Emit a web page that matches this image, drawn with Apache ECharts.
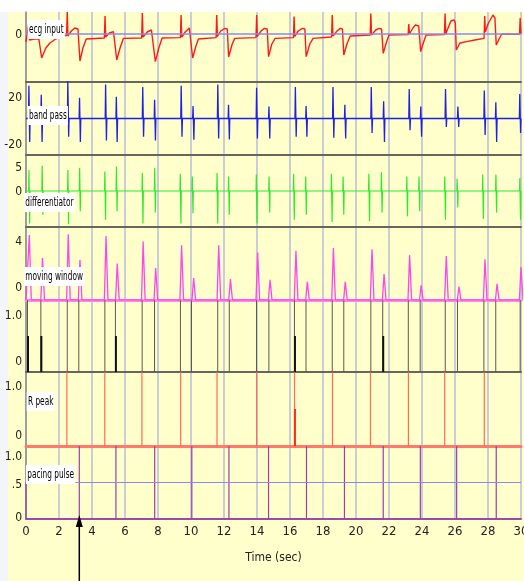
<!DOCTYPE html>
<html><head><meta charset="utf-8">
<script src="https://cdn.jsdelivr.net/npm/echarts@6/dist/echarts.min.js"></script>
<style>
html,body{margin:0;padding:0;background:#fff;width:524px;height:581px;overflow:hidden;}
#chart{position:absolute;left:0;top:0;width:524px;height:581px;}
</style></head><body><div id="chart"></div>
<script>
// ---------------- data ----------------
const timeTicks = [0,2,4,6,8,10,12,14,16,18,20,22,24,26,28,30];

// ecg input: [time (s), value]
const ecgInput = [
 [0.00,-0.40],[0.12,-0.35],[0.18,0.60],[0.22,-0.30],[0.50,-0.25],[0.78,-0.25],[0.95,-1.20],[1.20,-0.70],[1.45,-0.45],[1.80,-0.25],[2.20,-0.10],[2.46,-0.08],
 [2.50,1.10],[2.54,-0.10],[2.75,0.15],[2.95,0.30],[3.15,0.25],[3.27,-1.35],[3.45,-0.70],[3.65,-0.25],[4.75,-0.20],
 [4.79,0.90],[4.83,-0.15],[5.05,0.05],[5.30,0.12],[5.40,0.08],[5.50,-1.30],[5.70,-0.70],[5.90,-0.22],[7.01,-0.20],
 [7.05,1.05],[7.09,-0.15],[7.35,0.10],[7.60,0.20],[7.72,0.15],[7.84,-1.38],[8.05,-0.70],[8.25,-0.20],[9.36,-0.18],
 [9.40,0.95],[9.44,-0.15],[9.65,0.10],[9.90,0.30],[10.00,0.25],[10.10,-1.20],[10.30,-0.60],[10.45,-0.25],[11.52,-0.18],
 [11.56,0.95],[11.60,-0.12],[11.80,0.15],[12.05,0.28],[12.20,0.25],[12.28,-1.15],[12.50,-0.50],[12.65,-0.22],[13.94,-0.18],
 [13.98,0.95],[14.02,-0.12],[14.25,0.15],[14.45,0.28],[14.62,0.25],[14.70,-1.13],[14.90,-0.50],[15.10,-0.22],[16.21,-0.18],
 [16.25,0.87],[16.29,-0.12],[16.50,0.15],[16.75,0.28],[16.90,0.25],[16.98,-1.13],[17.20,-0.50],[17.40,-0.22],[18.52,-0.15],
 [18.56,0.95],[18.60,-0.10],[18.85,0.15],[19.05,0.28],[19.18,0.25],[19.26,-1.05],[19.45,-0.50],[19.65,-0.10],[20.86,-0.05],
 [20.90,1.03],[20.94,-0.05],[21.20,0.20],[21.40,0.28],[21.55,0.25],[21.65,-0.97],[21.85,-0.40],[22.00,-0.05],[23.16,-0.03],
 [23.20,0.50],[23.24,0.00],[23.45,0.30],[23.60,0.45],[23.80,0.40],[23.92,-0.88],[24.10,-0.40],[24.25,-0.05],[25.36,-0.03],
 [25.40,1.03],[25.44,0.00],[25.55,0.10],[25.75,0.65],[25.95,0.70],[26.02,0.55],[26.08,-0.80],[26.30,-0.45],[26.70,-0.38],[27.20,-0.30],[27.76,-0.22],
 [27.80,0.90],[27.84,0.10],[28.00,0.50],[28.30,0.95],[28.42,0.80],[28.50,-0.55],[28.70,-0.20],[28.85,0.00],[29.91,-0.02],
 [29.95,0.80],[30.00,0.00]
];

// band pass spikes: time, positive peak, negative peak
const bpTimes = [0.20,0.95,2.56,3.27,4.85,5.50,7.10,7.82,9.43,10.15,11.65,12.30,14.00,14.75,16.35,17.00,18.63,19.35,20.95,21.70,23.25,23.95,25.45,26.20,27.80,28.50,29.95];
const bpUp    = [18,13,21,11.4,18.6,11.9,17.2,10.3,18,6.9,18.6,7.5,16.9,6.5,17.2,6.9,17.2,7.5,17.2,9.4,16.1,6.5,16.1,6.5,15.3,8.9,13.4];
const bpDown  = [-12.9,-12.9,-10,-12.9,-12,-12.9,-10,-12,-10,-11.7,-10.9,-11.5,-10.9,-10.9,-10,-10,-10.6,-10.9,-8,-12.9,-6.4,-10,-4.6,-4.6,-9.1,-12.9,-8];

// differentiator spikes
const dfTimes = [0.20,1.00,2.56,3.27,4.80,5.50,7.07,7.82,9.37,10.10,11.60,12.30,13.98,14.75,16.24,16.97,18.53,19.24,20.80,21.56,23.10,23.84,25.40,26.15,27.70,28.50,29.95];
const dfUp    = [2.9,3.5,2.9,3.2,2.7,3.4,2.5,3.2,2.4,2.0,2.5,2.0,2.3,2.0,2.4,2.0,2.4,2.0,2.4,2.6,2.0,2.0,2.0,1.7,2.3,2.3,1.8];
const dfDown  = [-4.5,-3.3,-4.6,-2.8,-4.0,-2.8,-4.5,-3.0,-4.5,-3.1,-4.5,-3.3,-4.5,-3.0,-4.0,-3.3,-4.3,-3.3,-4.2,-3.0,-3.5,-2.8,-4.0,-2.3,-3.9,-3.0,-4.0];

// moving window integration peaks
const mwTimes = [0.20,1.00,2.56,3.27,4.85,5.53,7.10,7.86,9.43,10.16,11.68,12.39,14.04,14.79,16.36,17.05,18.63,19.35,20.97,21.70,23.25,23.95,25.47,26.24,27.82,28.55,30.00];
const mwPeak  = [3.56,2.3,3.6,2.2,3.5,2.0,3.2,1.75,3.0,1.2,3.0,1.15,2.6,1.1,2.7,1.0,2.85,1.0,2.78,1.42,2.47,0.8,2.41,0.73,2.23,0.88,1.8];

// detection (black) pulses
const detTimes = [0.12,0.93,2.53,3.23,4.81,5.45,7.07,7.82,9.39,10.06,11.65,12.35,14.0,14.75,16.3,17.0,18.59,19.29,20.93,21.65,23.2,23.92,25.44,26.18,27.78,28.5,29.98];
const detHalfTimes = [0.12,0.93,5.45,16.3,21.65];

// R peak pulses
const rPeakTimes = [2.5,4.8,7.05,9.4,11.6,14.0,16.3,18.6,20.9,23.2,25.4,27.8];
const rPeakHalfTimes = [16.3];

// pacing pulses
const pacingTimes = [3.23,5.45,7.8,10.05,12.3,14.7,17.0,19.3,21.65,23.9,26.1,28.5];
const pacingStart = [[0,0.5]];
const pacingThreshold = 0.5;

const panelNames = ['ecg input','band pass','differentiator','moving window','R peak','pacing pulse'];

// ---------------- build ----------------
function spikeLine(times, up, down, w) {
  const d = [[0,0]];
  times.forEach((t,i) => { d.push([t-w,0],[t-w/2,up[i]],[t+w/2,down[i]],[t+w,0]); });
  d.push([30,0]);
  return d;
}
function peakLine(times, peaks) {
  const d = [[0,0]];
  times.forEach((t,i) => { d.push([t-0.1,0],[t,peaks[i]],[t+0.12,0]); });
  if (times[times.length-1] < 30) d.push([30,0]);
  return d;
}
const pulse = (times, v) => times.map(t => [t, v]);

const FONT = '"DejaVu Sans Condensed","Liberation Sans",sans-serif';
const panels = [
  {top:12,h:70},{top:82,h:73},{top:155,h:72},{top:227,h:73},{top:300,h:72},{top:372,h:74},{top:446,h:73}
];
const sepColors = ['#66665a','#66665a','#66665a','#ff88e8','#66665a','#ff7a6a','#9a4aa8'];
const sepWidths = [2,2,2,3,2,3,2];

const grid = panels.map(p => ({left:26, right:3, top:p.top, height:p.h, outerBoundsMode:'none', containLabel:false}));
const xAxis = panels.map((p,i) => ({
  type:'value', gridIndex:i, min:timeTicks[0], max:timeTicks[timeTicks.length-1], interval:timeTicks[1]-timeTicks[0],
  axisLine:{show:true, onZero:false, lineStyle:{color:sepColors[i], width:sepWidths[i]}},
  axisTick:{show:false},
  axisLabel:{show:i===6, color:'#222', fontSize:13, fontFamily:FONT, margin:6},
  splitLine:{show:true, lineStyle:{color:'#b9bcd9', width:1.5}},
  name: i===6 ? 'Time (sec)' : '', nameLocation:'middle', nameGap:33,
  nameTextStyle:{color:'#222', fontSize:12, fontFamily:FONT}
}));

function yAx(i, min, max, vals, texts, shifts) {
  const rich = {};
  shifts.forEach(s => {
    if (s > 0) rich['d'+s] = {padding:[2*s,0,0,0], fontSize:12, fontFamily:FONT, color:'#222'};
    if (s < 0) rich['u'+(-s)] = {padding:[0,0,-2*s,0], fontSize:12, fontFamily:FONT, color:'#222'};
  });
  return {
    type:'value', gridIndex:i, min, max,
    axisLine:{show:true, onZero:false, lineStyle:{color:'#8c8c8c', width:1.5}},
    axisTick:{show:false}, splitLine:{show:false},
    axisLabel:{
      customValues: vals, margin:4, fontSize:12, fontFamily:FONT, color:'#222', rich,
      formatter: v => {
        let k = vals.findIndex(x => Math.abs(x - v) < 1e-9);
        if (k < 0) return '';
        const s = shifts[k], t = texts[k];
        if (s > 0) return '{d'+s+'|'+t+'}';
        if (s < 0) return '{u'+(-s)+'|'+t+'}';
        return t;
      }
    }
  };
}
const yAxis = [
  yAx(0, -2.4, 1.1, [0], ['0'], [1]),
  yAx(1, -20, 20, [-20, 20], ['-20','20'], [-10, 16]),
  yAx(2, -5, 5, [0, 5], ['0','5'], [1, 13]),
  yAx(3, 0, 4, [0, 4], ['0','4'], [-12, 15]),
  yAx(4, 0, 1, [0, 1], ['0','1.0'], [-10, 16]),
  yAx(5, 0, 1, [0, 1], ['0','1.0'], [-10, 15]),
  yAx(6, 0, 1, [0, 0.5, 1], ['0','.5','1.0'], [-1, 2, 11])
];

const lineBase = {type:'line', showSymbol:false, symbol:'none', animation:false, silent:true};
const barBase = {type:'bar', animation:false, silent:true, barGap:'-100%'};
const series = [
  Object.assign({}, lineBase, {name:'ecg input', xAxisIndex:0, yAxisIndex:0, data:ecgInput,
    lineStyle:{color:'#ff1a1a', width:1.4},
    markLine:{silent:true, symbol:'none', label:{show:false}, animation:false,
      lineStyle:{color:'#8a8aee', width:1.5, type:'solid'}, data:[{yAxis:0}]}}),
  Object.assign({}, lineBase, {name:'band pass', xAxisIndex:1, yAxisIndex:1, data:spikeLine(bpTimes,bpUp,bpDown,0.05),
    lineStyle:{color:'#1f1fe8', width:1.3}}),
  Object.assign({}, lineBase, {name:'differentiator', xAxisIndex:2, yAxisIndex:2, data:spikeLine(dfTimes,dfUp,dfDown,0.04),
    lineStyle:{color:'#2fe82f', width:1.2}}),
  Object.assign({}, lineBase, {name:'moving window', xAxisIndex:3, yAxisIndex:3, data:peakLine(mwTimes,mwPeak),
    lineStyle:{color:'#ff45ee', width:1.3}}),
  Object.assign({}, barBase, {name:'detect', xAxisIndex:4, yAxisIndex:4, data:pulse(detTimes,1), barWidth:1,
    itemStyle:{color:'#5a5a50'}}),
  Object.assign({}, barBase, {name:'detect half', xAxisIndex:4, yAxisIndex:4, data:pulse(detHalfTimes,0.5), barWidth:2,
    itemStyle:{color:'#111'}}),
  Object.assign({}, barBase, {name:'R peak', xAxisIndex:5, yAxisIndex:5, data:pulse(rPeakTimes,1), barWidth:1.2,
    itemStyle:{color:'#ff6a5a'}}),
  Object.assign({}, barBase, {name:'R peak half', xAxisIndex:5, yAxisIndex:5, data:pulse(rPeakHalfTimes,0.5), barWidth:2,
    itemStyle:{color:'#ff2a1a'}}),
  Object.assign({}, barBase, {name:'pacing pulse', xAxisIndex:6, yAxisIndex:6, data:pacingStart.concat(pulse(pacingTimes,1)), barWidth:1.2,
    itemStyle:{color:'#9a40a8'},
    markLine:{silent:true, symbol:'none', label:{show:false}, animation:false,
      lineStyle:{color:'#8a8ae8', width:1.2, type:'solid'}, data:[{yAxis:pacingThreshold}]}})
];

const labelPos = [[27.7,20],[27.7,106],[24,193],[24,267],[26.7,392],[26,465]];
const graphic = [
  {type:'rect', z:-100, silent:true, shape:{x:0, y:12, width:8, height:569}, style:{fill:'#f3f5fa'}},
  {type:'rect', z:-100, silent:true, shape:{x:8, y:12, width:516, height:569}, style:{fill:'#ffffcc'}}
].concat(panelNames.map((n,i) => ({
  type:'text', x:labelPos[i][0], y:labelPos[i][1], z:100, silent:true, scaleX:0.63, scaleY:1,
  style:{text:n, font:'13px '+FONT, fill:'#000', backgroundColor:'#fff', padding:[3,2,3,2]}
})));

const chart = echarts.init(document.getElementById('chart'), null, {renderer:'canvas'});
chart.setOption({animation:false, backgroundColor:'#fff', grid, xAxis, yAxis, series, graphic});

// arrow pointing at the first pacing pulse
const p = chart.convertToPixel({gridIndex:6}, [pacingTimes[0], 0]);
const H = chart.getHeight();
graphic.push(
  {type:'line', z:100, silent:true, shape:{x1:p[0], y1:p[1]+6, x2:p[0], y2:H}, style:{stroke:'#000', lineWidth:1.5}},
  {type:'polygon', z:100, silent:true, shape:{points:[[p[0],p[1]-4],[p[0]-3.5,p[1]+8],[p[0]+3.5,p[1]+8]]}, style:{fill:'#000'}}
);
chart.setOption({graphic});
</script></body></html>
